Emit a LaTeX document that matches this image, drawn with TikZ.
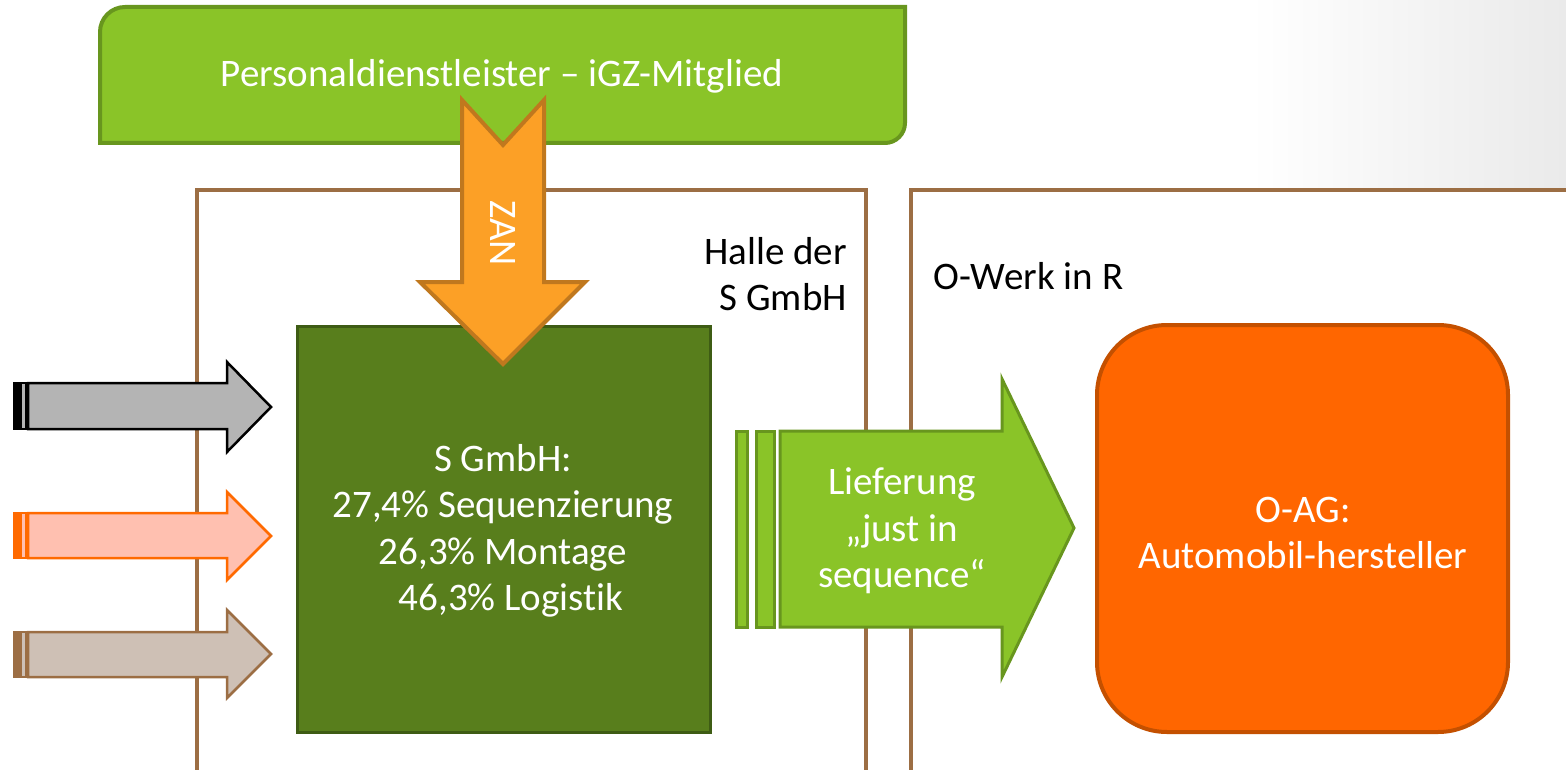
\documentclass[tikz,border=0pt]{standalone}
\usepackage{fontspec}
\setmainfont{Carlito}[Ligatures={NoCommon}]
\definecolor{lime}{RGB}{138,196,40}
\definecolor{limeline}{RGB}{104,150,30}
\definecolor{dgreen}{RGB}{88,126,28}
\definecolor{dgreenline}{RGB}{62,92,20}
\definecolor{zanfill}{RGB}{252,160,38}
\definecolor{zanline}{RGB}{192,120,30}
\definecolor{oagfill}{RGB}{255,102,0}
\definecolor{oagline}{RGB}{196,80,0}
\definecolor{brown}{RGB}{156,110,68}
\definecolor{grayfill}{RGB}{180,180,180}
\definecolor{salmon}{RGB}{255,192,176}
\definecolor{salmonline}{RGB}{255,106,0}
\definecolor{taupe}{RGB}{206,192,181}
\definecolor{bggray}{RGB}{234,234,234}
\tikzset{
  txt/.style={font=\fontsize{39}{46.5}\selectfont, inner sep=0pt},
  halline/.style={draw=brown, line width=3.5pt},
  grayarrow/.style={draw=black, fill=grayfill, line width=2.5pt, line join=miter},
  salmonarrow/.style={draw=salmonline, fill=salmon, line width=2.5pt, line join=miter},
  taupearrow/.style={draw=brown, fill=taupe, line width=2.5pt, line join=miter},
  greenarrow/.style={draw=limeline, fill=lime, line width=3pt, line join=miter},
  zanarrow/.style={draw=zanline, fill=zanfill, line width=4pt, line join=miter},
}
\begin{document}
\begin{tikzpicture}[x=1pt,y=-1pt]
\useasboundingbox (0,0) rectangle (1566,770);
% background gradient top right
\fill[left color=white, right color=bggray] (1250,0) rectangle (1566,190);
% hall boxes
\draw[halline] (197,775) -- (197,190) -- (866,190) -- (866,775);
\draw[halline, fill=white] (911,775) -- (911,190) -- (1575,190) -- (1575,775);
% top box
\draw[fill=lime, draw=limeline, line width=4pt]
  (100,143) -- (100,32) .. controls (100,18.2) and (111.2,7) .. (125,7)
  -- (905,7) -- (905,123) .. controls (905,134) and (896,143) .. (885,143) -- cycle;
\node[txt, text=white] (pdl) at (502,76) {Personaldienstleister – iGZ-Mitglied};
% dark green box
\draw[fill=dgreen, draw=dgreenline, line width=3pt] (297,326) rectangle (710,732);
\node[txt, text=white, align=center] (sgmbh) at (503,531)
  {S GmbH:\\27,4\% Sequenzierung\\26,3\% Montage\\\hspace*{16pt}46,3\% Logistik};
% O-AG box
\draw[fill=oagfill, draw=oagline, line width=4pt, rounded corners=70pt] (1097,325) rectangle (1508,732);
\node[txt, text=white, align=center] (oag) at (1303,533) {O-AG:\\Automobil-hersteller};
% labels
\node[txt, align=right, anchor=east] (halle) at (847,274) {Halle der\\S GmbH};
\node[txt, anchor=west] (owerk) at (933,276) {O-Werk in R};
% left arrows
\draw[grayarrow, fill=black] (14,383) rectangle (19,429);
\draw[grayarrow] (21,383) rectangle (26,429);
\draw[grayarrow] (28,383) -- (227,383) -- (227,362) -- (271,407) -- (227,452) -- (227,429) -- (28,429) -- cycle;
\draw[salmonarrow, fill=salmonline] (14,513) rectangle (19,558);
\draw[salmonarrow] (21,513) rectangle (26,558);
\draw[salmonarrow] (28,513) -- (227,513) -- (227,492) -- (271,536) -- (227,580) -- (227,558) -- (28,558) -- cycle;
\draw[taupearrow, fill=brown] (14,632) rectangle (19,677);
\draw[taupearrow] (21,632) rectangle (26,677);
\draw[taupearrow] (28,632) -- (227,632) -- (227,610) -- (271,654) -- (227,698) -- (227,677) -- (28,677) -- cycle;
% green delivery arrow
\draw[greenarrow] (736,431) rectangle (747,627);
\draw[greenarrow] (756,431) rectangle (774,627);
\draw[greenarrow] (780,431) -- (1002,431) -- (1002,379) -- (1074,528) -- (1002,677) -- (1002,627) -- (780,627) -- cycle;
\node[txt, text=white, align=center] (lief) at (902,531) {Lieferung\\„just in\\sequence“};
% ZAN arrow
\draw[zanarrow] (462,100) -- (503,145) -- (544,100) -- (544,282) -- (585,282) -- (503,364) -- (420,282) -- (462,282) -- cycle;
\node[txt, text=white, rotate=-90] (zan) at (503,233) {ZAN};
\end{tikzpicture}
\end{document}
